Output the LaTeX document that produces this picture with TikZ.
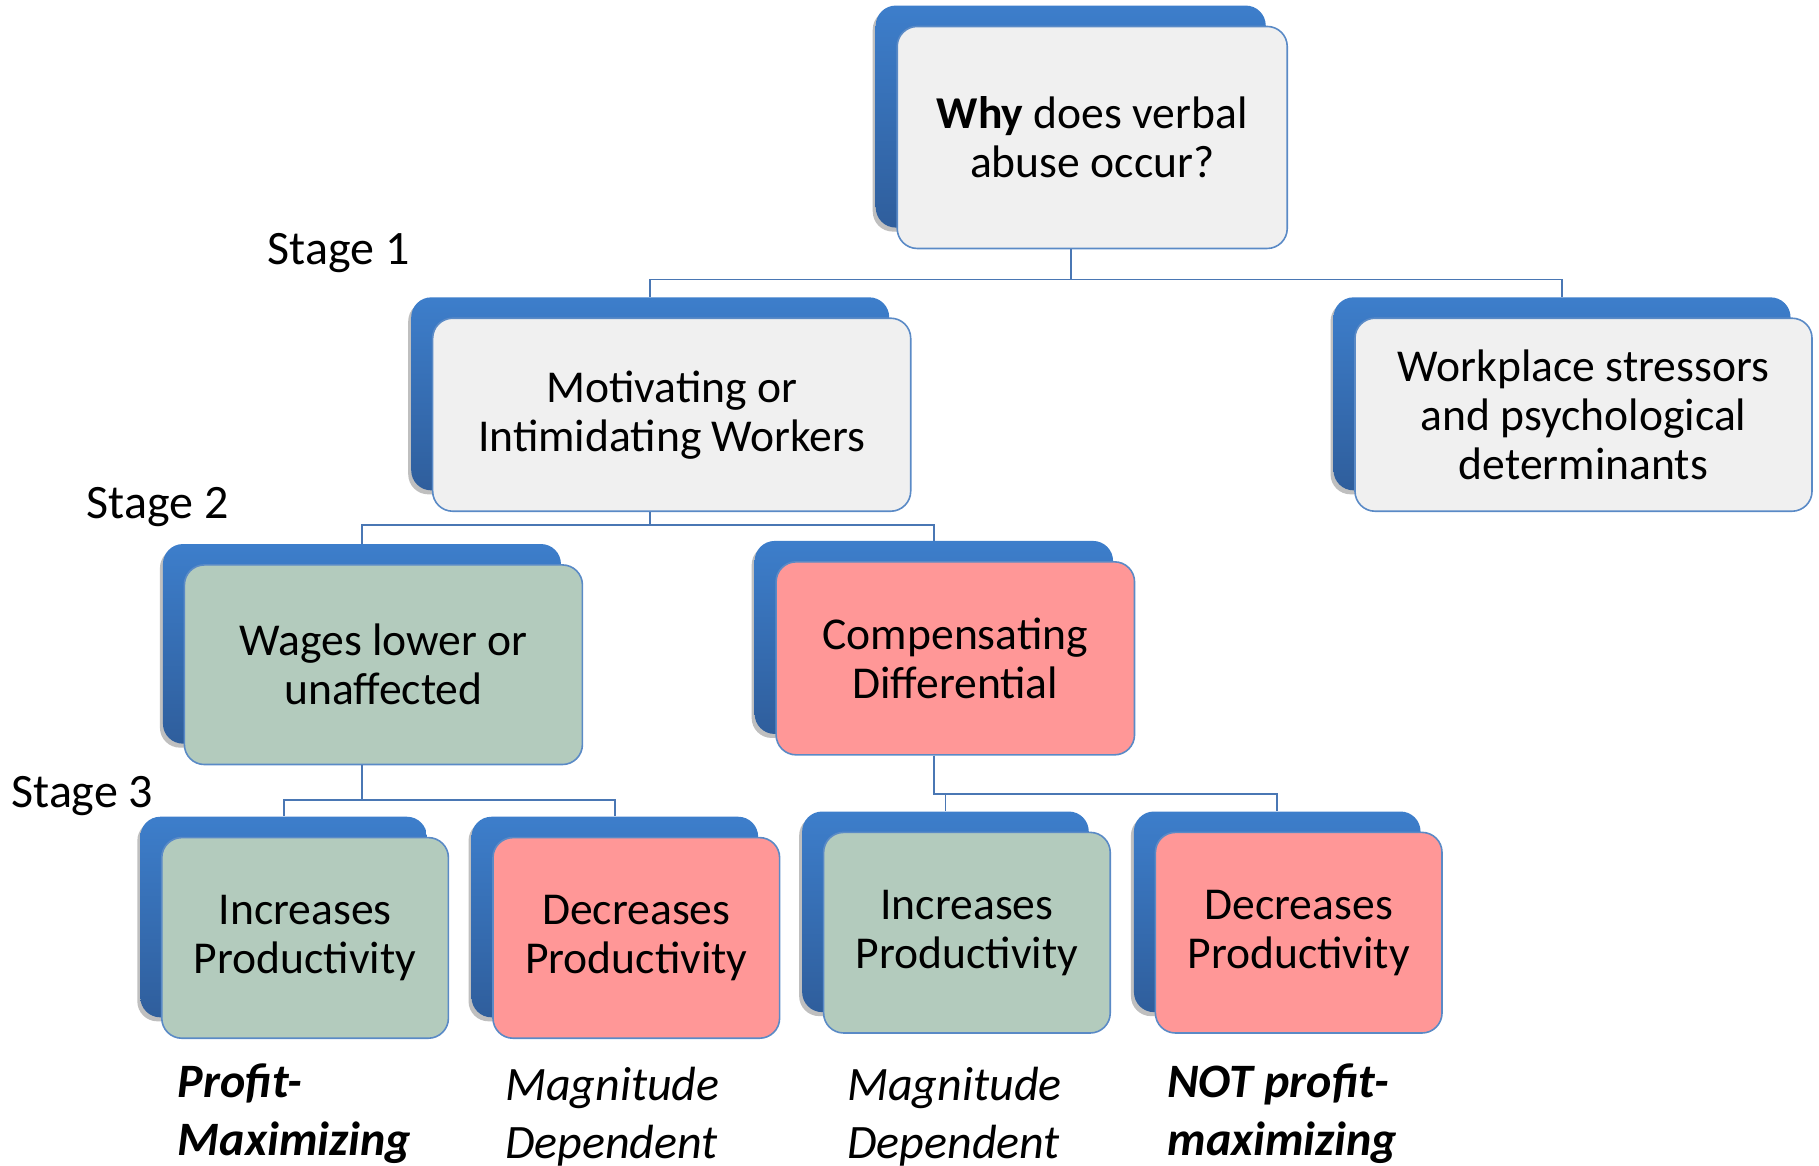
\documentclass[tikz,border=0pt]{standalone}
\usepackage{fontspec}
\setmainfont{Carlito}
\usetikzlibrary{positioning,shadows}

\definecolor{backtop}{HTML}{3D7ECB}
\definecolor{backbot}{HTML}{2F5E9C}
\definecolor{rim}{HTML}{5A8AC6}
\definecolor{wire}{HTML}{4A77B4}
\definecolor{greyfill}{HTML}{F0F0F0}
\definecolor{greenfill}{HTML}{B3CBBD}
\definecolor{redfill}{HTML}{FF9797}

\tikzset{
  back/.style={rounded corners=10pt, draw=none, top color=backtop, bottom color=backbot,
    drop shadow={shadow xshift=-1.5pt, shadow yshift=-2pt, fill=black, opacity=.25}},
  front/.style={rounded corners=10pt, draw=rim, line width=0.8pt, align=center,
    font=\fontsize{22.8}{24.5}\selectfont, execute at begin node={\rule{0pt}{20.5pt}}},
  stagelabel/.style={font=\fontsize{24}{28}\selectfont},
  verdict/.style={anchor=west, align=left, inner sep=0pt, font=\itshape\fontsize{24}{29}\selectfont},
  link/.style={draw=wire, line width=0.9pt},
  topsize/.style={minimum width=195pt, minimum height=111pt},
  midsize/.style={minimum width=#1, minimum height=96.5pt},
  lowsize/.style={minimum width=143.3pt, minimum height=100.3pt}
}

\begin{document}
\begin{tikzpicture}[x=0.58pt, y=-0.58pt]
  \useasboundingbox (0,0) rectangle (1568,1005);

  % question
  \node[back, topsize] (why-b) at (923,100.5) {};
  \node[front, topsize, fill=greyfill] (why) at ([shift={(18.5,18)}]why-b) {\textbf{Why} does verbal\\abuse occur?};

  % stage 1
  \node[back, midsize=239pt] (motiv-b) at (560.5,339.5) {};
  \node[front, midsize=239pt, fill=greyfill] (motiv) at ([shift={(18.5,18)}]motiv-b) {Motivating or\\Intimidating Workers};
  \node[back, midsize=228.5pt] (work-b) at (1346.5,339.5) {};
  \node[front, midsize=228.5pt, fill=greyfill] (work) at ([shift={(18.5,18)}]work-b) {Workplace stressors\\and psychological\\determinants};

  % stage 2
  \node[back, minimum width=199pt, minimum height=99.8pt] (wages-b) at (312,555) {};
  \node[front, minimum width=199pt, minimum height=99.8pt, fill=greenfill] (wages) at ([shift={(18.5,18)}]wages-b) {Wages lower or\\unaffected};
  \node[back, midsize=179.2pt] (comp-b) at (805,549.5) {};
  \node[front, midsize=179.2pt, fill=redfill] (comp) at ([shift={(18.5,18)}]comp-b) {Compensating\\Differential};

  % stage 3
  \node[back, lowsize] (inc1-b) at (244.5,790.5) {};
  \node[front, lowsize, fill=greenfill] (inc1) at ([shift={(18.5,18)}]inc1-b) {Increases\\Productivity};
  \node[back, lowsize] (dec1-b) at (530,790.5) {};
  \node[front, lowsize, fill=redfill] (dec1) at ([shift={(18.5,18)}]dec1-b) {Decreases\\Productivity};
  \node[back, lowsize] (inc2-b) at (815,786) {};
  \node[front, lowsize, fill=greenfill] (inc2) at ([shift={(18.5,18)}]inc2-b) {Increases\\Productivity};
  \node[back, lowsize] (dec2-b) at (1101,786) {};
  \node[front, lowsize, fill=redfill] (dec2) at ([shift={(18.5,18)}]dec2-b) {Decreases\\Productivity};

  % connectors
  \draw[link] (why.south -| why-b.south) -- ++(0,26) -| (motiv-b.north);
  \draw[link] (why.south -| why-b.south) -- ++(0,26) -| (work-b.north);
  \draw[link] (motiv.south -| motiv-b.south) -- ++(0,11) -| (wages-b.north);
  \draw[link] (motiv.south -| motiv-b.south) -- ++(0,11) -| (comp-b.north);
  \draw[link] (wages.south -| wages-b.south) -- ++(0,30) -| (inc1-b.north);
  \draw[link] (wages.south -| wages-b.south) -- ++(0,30) -| (dec1-b.north);
  \draw[link] (comp.south -| comp-b.south) -- ++(0,33) -| (inc2-b.north);
  \draw[link] (comp.south -| comp-b.south) -- ++(0,33) -| (dec2-b.north);

  % stage labels
  \node[stagelabel] (stage1) at (292,218) {Stage 1};
  \node[stagelabel] (stage2) at (136,437) {Stage 2};
  \node[stagelabel] (stage3) at (71,686) {Stage 3};

  % outcomes
  \node[verdict] (out1) at (153,960) {\textbf{Profit-}\\\textbf{Maximizing}};
  \node[verdict] (out2) at (435,963) {Magnitude\\Dependent};
  \node[verdict] (out3) at (730,963) {Magnitude\\Dependent};
  \node[verdict] (out4) at (1006,960) {\textbf{NOT profit-}\\\textbf{maximizing}};
\end{tikzpicture}
\end{document}
